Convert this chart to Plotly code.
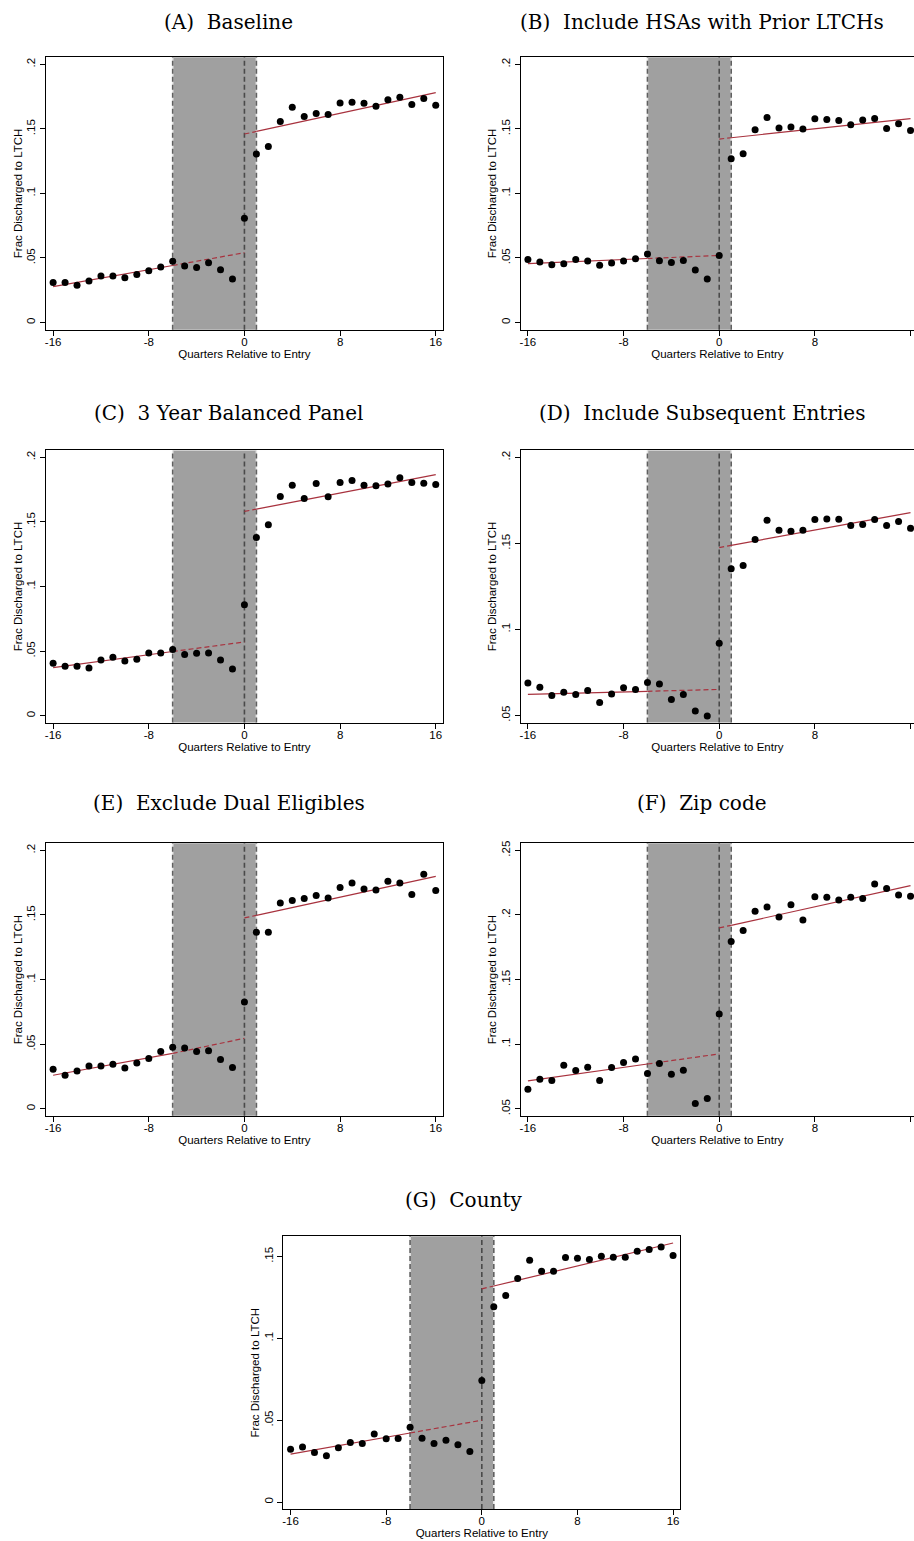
import plotly.graph_objects as go

W, H = 914, 1541

# ---------------- data ----------------
quarters = list(range(-16, 17))
x_tick_vals = [-16, -8, 0, 8, 16]
x_tick_text = ["-16", "-8", "0", "8", "16"]

titles = [
    "(A)\u00a0 Baseline",
    "(B)\u00a0 Include HSAs with Prior LTCHs",
    "(C)\u00a0 3 Year Balanced Panel",
    "(D)\u00a0 Include Subsequent Entries",
    "(E)\u00a0 Exclude Dual Eligibles",
    "(F)\u00a0 Zip code",
    "(G)\u00a0 County",
]

vals_a = [0.0310, 0.0310, 0.0288, 0.0322, 0.0360, 0.0360, 0.0347, 0.0373, 0.0402, 0.0430,
          0.0474, 0.0438, 0.0427, 0.0463, 0.0409, 0.0337, 0.0808, 0.1305, 0.1364, 0.1557,
          0.1668, 0.1596, 0.1619, 0.1611, 0.1701, 0.1707, 0.1699, 0.1676, 0.1725, 0.1745,
          0.1689, 0.1735, 0.1683]
vals_b = [0.0489, 0.0468, 0.0448, 0.0456, 0.0489, 0.0476, 0.0443, 0.0461, 0.0476, 0.0494,
          0.0530, 0.0479, 0.0466, 0.0481, 0.0407, 0.0337, 0.0520, 0.1269, 0.1308, 0.1493,
          0.1588, 0.1506, 0.1514, 0.1498, 0.1578, 0.1573, 0.1565, 0.1532, 0.1568, 0.1580,
          0.1503, 0.1539, 0.1488]
vals_c = [0.0406, 0.0383, 0.0383, 0.0370, 0.0432, 0.0452, 0.0424, 0.0437, 0.0486, 0.0486,
          0.0512, 0.0473, 0.0483, 0.0486, 0.0432, 0.0362, 0.0859, 0.1380, 0.1478, 0.1697,
          0.1784, 0.1681, 0.1797, 0.1694, 0.1805, 0.1820, 0.1784, 0.1779, 0.1794, 0.1841,
          0.1805, 0.1799, 0.1789]
vals_d = [0.0689, 0.0664, 0.0616, 0.0635, 0.0622, 0.0645, 0.0575, 0.0624, 0.0660, 0.0651,
          0.0691, 0.0682, 0.0593, 0.0622, 0.0525, 0.0496, 0.0919, 0.1353, 0.1372, 0.1523,
          0.1635, 0.1577, 0.1571, 0.1577, 0.1639, 0.1642, 0.1640, 0.1604, 0.1610, 0.1639,
          0.1604, 0.1627, 0.1588]
vals_e = [0.0306, 0.0260, 0.0293, 0.0332, 0.0332, 0.0345, 0.0317, 0.0355, 0.0389, 0.0443,
          0.0476, 0.0471, 0.0443, 0.0450, 0.0381, 0.0319, 0.0826, 0.1367, 0.1367, 0.1593,
          0.1611, 0.1627, 0.1650, 0.1632, 0.1712, 0.1748, 0.1701, 0.1694, 0.1761, 0.1748,
          0.1658, 0.1815, 0.1689]
vals_f = [0.0652, 0.0729, 0.0719, 0.0837, 0.0796, 0.0822, 0.0719, 0.0819, 0.0858, 0.0886,
          0.0773, 0.0850, 0.0768, 0.0799, 0.0541, 0.0580, 0.1234, 0.1795, 0.1880, 0.2029,
          0.2062, 0.1985, 0.2080, 0.1962, 0.2140, 0.2137, 0.2116, 0.2137, 0.2127, 0.2240,
          0.2204, 0.2155, 0.2145]
vals_g = [0.0323, 0.0337, 0.0303, 0.0283, 0.0331, 0.0364, 0.0358, 0.0415, 0.0386, 0.0388,
          0.0457, 0.0390, 0.0358, 0.0378, 0.0350, 0.0309, 0.0742, 0.1193, 0.1262, 0.1366,
          0.1478, 0.1411, 0.1411, 0.1494, 0.1490, 0.1482, 0.1502, 0.1496, 0.1496, 0.1533,
          0.1543, 0.1559, 0.1506]
all_vals = [vals_a, vals_b, vals_c, vals_d, vals_e, vals_f, vals_g]

# linear fits (pre-period at x=-16,-6,0 ; post-period at x=0,1,16)
pre_fit_x = [-16, -6, 0]
post_fit_x = [0, 1, 16]
pre_fits = [
    [0.0278, 0.0442, 0.0541],
    [0.0456, 0.0496, 0.0520],
    [0.0373, 0.0497, 0.0571],
    [0.0622, 0.0640, 0.0651],
    [0.0260, 0.0429, 0.0546],
    [0.0716, 0.0847, 0.0925],
    [0.0293, 0.0422, 0.0500],
]
post_fits = [
    [0.1460, 0.1480, 0.1781],
    [0.1421, 0.1431, 0.1580],
    [0.1581, 0.1599, 0.1866],
    [0.1476, 0.1489, 0.1679],
    [0.1477, 0.1497, 0.1799],
    [0.1900, 0.1920, 0.2227],
    [0.1303, 0.1320, 0.1583],
]

shade_start, shade_end, entry_q = -6, 1, 0

y_ticks_std = [0, 0.05, 0.1, 0.15, 0.2]
y_text_std = ["0", ".05", ".1", ".15", ".2"]
y_ticks_d = [0.05, 0.1, 0.15, 0.2]
y_text_d = [".05", ".1", ".15", ".2"]
y_ticks_f = [0.05, 0.1, 0.15, 0.2, 0.25]
y_text_f = [".05", ".1", ".15", ".2", ".25"]
y_ticks_g = [0, 0.05, 0.1, 0.15]
y_text_g = ["0", ".05", ".1", ".15"]
y_tick_sets = [(y_ticks_std, y_text_std), (y_ticks_std, y_text_std), (y_ticks_std, y_text_std),
               (y_ticks_d, y_text_d), (y_ticks_std, y_text_std), (y_ticks_f, y_text_f),
               (y_ticks_g, y_text_g)]

# ---------------- layout geometry (pixels) ----------------
panels = [
    dict(box=(45, 54.3, 442.4, 327.3), xr=(-16.6, 16.6), yr=(-0.0055, 0.2055), tx=228, ty=19.5, cut=False),
    dict(box=(520.3, 54.3, 914, 327.3), xr=(-16.6, 16.29), yr=(-0.0055, 0.2055), tx=702, ty=19.5, cut=True),
    dict(box=(45, 448.3, 442.4, 721), xr=(-16.6, 16.6), yr=(-0.0053, 0.2053), tx=228, ty=411, cut=False),
    dict(box=(520.3, 448.3, 914, 721), xr=(-16.6, 16.29), yr=(0.0458, 0.2041), tx=702, ty=411, cut=True),
    dict(box=(45, 842, 442.4, 1115), xr=(-16.6, 16.6), yr=(-0.0054, 0.2054), tx=228, ty=802, cut=False),
    dict(box=(520.3, 842, 914, 1115), xr=(-16.6, 16.29), yr=(0.0446, 0.2554), tx=702, ty=802, cut=True),
    dict(box=(282.7, 1235.7, 680, 1509), xr=(-16.6, 16.6), yr=(-0.0043, 0.1624), tx=463, ty=1199, cut=False),
]

FIT_COLOR = "#a8323e"
SANS = "Liberation Sans, Arial, sans-serif"
SERIF = "DejaVu Serif, serif"

fig = go.Figure()
layout = dict(
    width=W, height=H, margin=dict(l=0, r=0, t=0, b=0),
    paper_bgcolor="white", plot_bgcolor="white", showlegend=False,
    font=dict(family=SANS, color="black", size=11),
)
shapes = []
annotations = []

for i, (p, vals) in enumerate(zip(panels, all_vals)):
    n = i + 1
    xa = f"x{n}" if n > 1 else "x"
    ya = f"y{n}" if n > 1 else "y"
    l, t, r, b = p["box"]
    yt, ytt = y_tick_sets[i]
    layout[f"xaxis{n}"] = dict(
        domain=[l / W, min(r / W, 1.0)], anchor=ya, range=list(p["xr"]),
        tickvals=x_tick_vals, ticktext=x_tick_text, ticks="outside", ticklen=5,
        tickwidth=1, tickcolor="black", showline=True, linecolor="black", linewidth=1.3,
        mirror=True, showgrid=False, zeroline=False, ticklabelstandoff=-4,
        tickfont=dict(family=SANS, size=11.5, color="black"),
        title=dict(text="Quarters Relative to Entry", standoff=0,
                   font=dict(family=SANS, size=11.5, color="black")),
    )
    layout[f"yaxis{n}"] = dict(
        domain=[1 - b / H, 1 - t / H], anchor=xa, range=list(p["yr"]),
        tickvals=yt, ticktext=ytt, tickangle=-90, ticks="outside", ticklen=5,
        tickwidth=1, tickcolor="black", showline=True, linecolor="black", linewidth=1.3,
        mirror=not p["cut"], showgrid=False, zeroline=False,
        tickfont=dict(family=SANS, size=11.5, color="black"),
        title=dict(text="Frac Discharged to LTCH", standoff=0,
                   font=dict(family=SANS, size=11.5, color="black")),
    )
    dom = f"{ya} domain"
    shapes.append(dict(type="rect", xref=xa, yref=dom, x0=shade_start, x1=shade_end, y0=0, y1=1,
                       fillcolor="#a0a0a0", line=dict(width=0), layer="below"))
    for xv in (shade_start, shade_end):
        shapes.append(dict(type="line", xref=xa, yref=dom, x0=xv, x1=xv, y0=0, y1=1,
                           line=dict(color="#e6e6e6", width=1.6), layer="below"))
        shapes.append(dict(type="line", xref=xa, yref=dom, x0=xv, x1=xv, y0=0, y1=1,
                           line=dict(color="#606060", width=1.6, dash="5px,3px"), layer="below"))
    shapes.append(dict(type="line", xref=xa, yref=dom, x0=entry_q, x1=entry_q, y0=0, y1=1,
                       line=dict(color="#4a4a4a", width=1.6, dash="5px,3px"), layer="below"))

    pre, post = pre_fits[i], post_fits[i]
    fig.add_trace(go.Scatter(x=pre_fit_x[:2], y=pre[:2], mode="lines", xaxis=xa, yaxis=ya,
                             line=dict(color=FIT_COLOR, width=1.2), hoverinfo="skip"))
    fig.add_trace(go.Scatter(x=pre_fit_x[1:], y=pre[1:], mode="lines", xaxis=xa, yaxis=ya,
                             line=dict(color=FIT_COLOR, width=1.2, dash="5px,3px"), hoverinfo="skip"))
    fig.add_trace(go.Scatter(x=post_fit_x[:2], y=post[:2], mode="lines", xaxis=xa, yaxis=ya,
                             line=dict(color=FIT_COLOR, width=1.2, dash="5px,3px"), hoverinfo="skip"))
    fig.add_trace(go.Scatter(x=post_fit_x[1:], y=post[1:], mode="lines", xaxis=xa, yaxis=ya,
                             line=dict(color=FIT_COLOR, width=1.2), hoverinfo="skip"))
    fig.add_trace(go.Scatter(x=quarters, y=vals, mode="markers", xaxis=xa, yaxis=ya,
                             marker=dict(color="black", size=7, line=dict(width=0))))

    annotations.append(dict(text=titles[i], x=p["tx"] / W, y=1 - p["ty"] / H, xref="paper", yref="paper",
                            xanchor="center", yanchor="middle", showarrow=False,
                            font=dict(family=SERIF, size=20, color="black")))

layout["shapes"] = shapes
layout["annotations"] = annotations
fig.update_layout(**layout)
fig.write_html("out.html", config={"displayModeBar": False},
               post_script="document.body.style.margin='0';document.body.style.overflow='hidden';")
